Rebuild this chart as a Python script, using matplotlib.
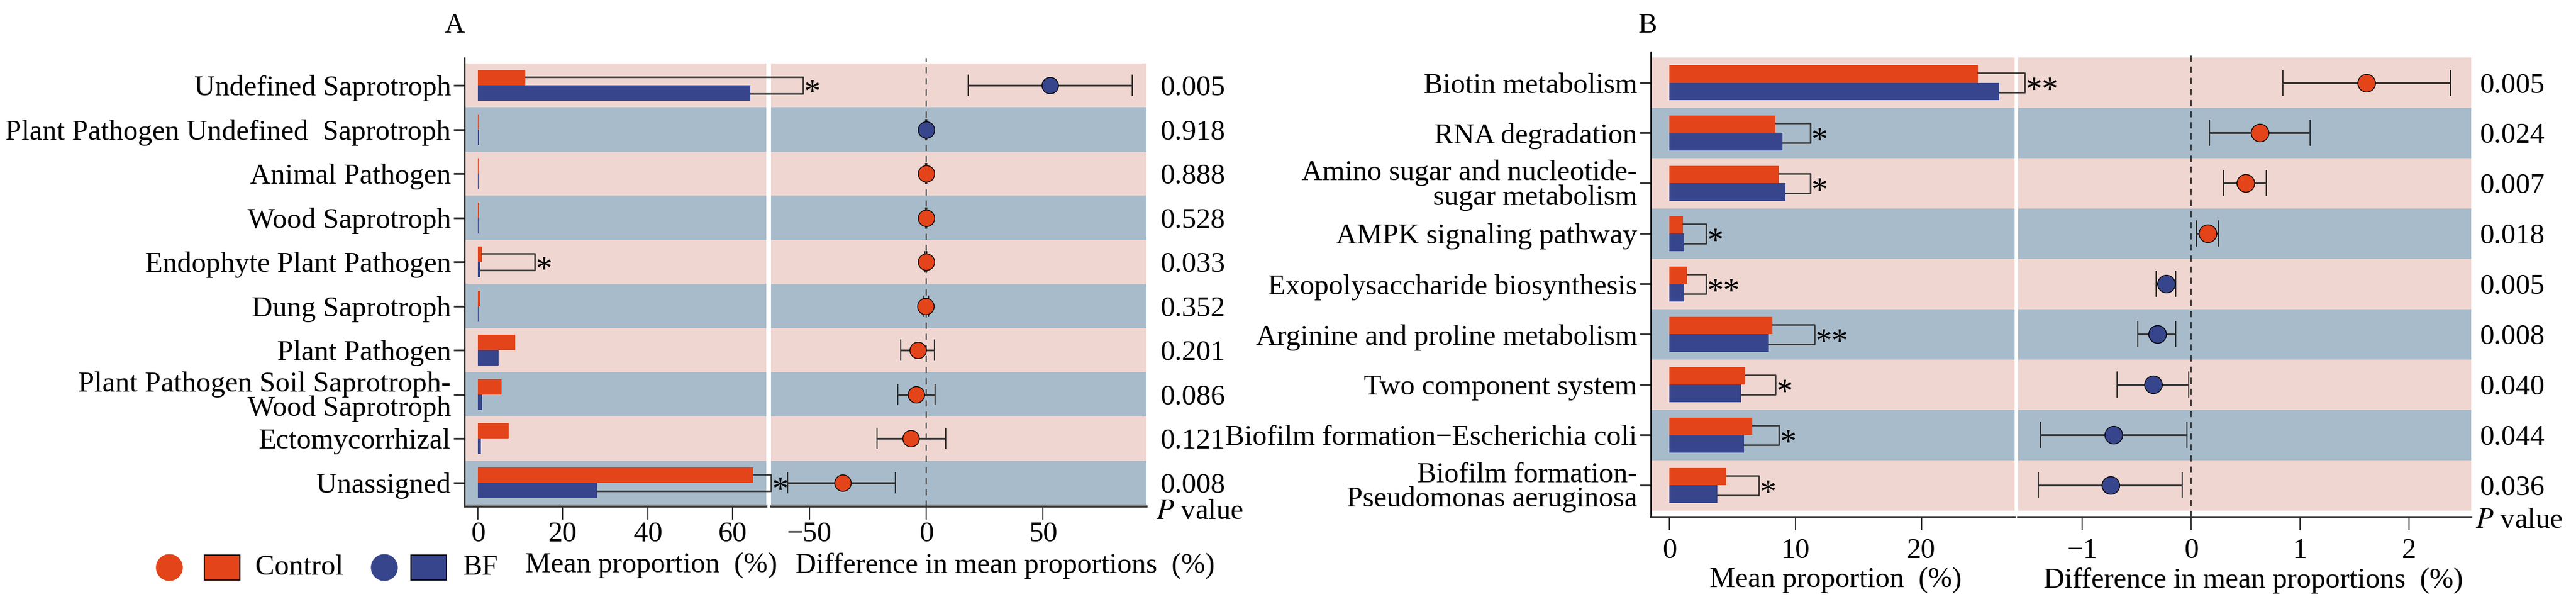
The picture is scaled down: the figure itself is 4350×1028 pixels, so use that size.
import matplotlib.pyplot as plt
import numpy as np
from matplotlib.patches import Ellipse, Rectangle
from matplotlib.transforms import blended_transform_factory

plt.rcParams['font.family'] = ['Liberation Serif', 'DejaVu Serif']
plt.rcParams['mathtext.fontset'] = 'stix'

# Panel A (funciones ecológicas de hongos)
cats_a = ['Undefined Saprotroph', 'Plant Pathogen Undefined  Saprotroph', 'Animal Pathogen',
          'Wood Saprotroph', 'Endophyte Plant Pathogen', 'Dung Saprotroph', 'Plant Pathogen',
          'Plant Pathogen Soil Saprotroph-\nWood Saprotroph', 'Ectomycorrhizal', 'Unassigned']
control_a = [11.2, 0.2, 0.1, 0.3, 1.0, 0.5, 8.8, 5.6, 7.3, 64.8]
bf_a = [64.1, 0.3, 0.1, 0.2, 0.6, 0.1, 4.9, 1.0, 0.7, 28.0]
diff_a = [53.0, 0.0, 0.0, 0.0, -0.1, -0.2, -3.6, -4.2, -6.5, -35.8]
low_a = [18.0, -0.3, -0.2, -0.3, -0.5, -1.4, -10.8, -12.2, -21.1, -59.4]
high_a = [88.3, 0.3, 0.2, 0.3, 0.3, 1.0, 3.6, 3.8, 8.3, -13.1]
dot_a = ['BF', 'BF', 'Control', 'Control', 'Control', 'Control', 'Control', 'Control', 'Control', 'Control']
sig_a = ['*', '', '', '', '*', '', '', '', '', '*']
bracket_a = [76.5, 0, 0, 0, 13.4, 0, 0, 0, 0, 69.0]
pval_a = ['0.005', '0.918', '0.888', '0.528', '0.033', '0.352', '0.201', '0.086', '0.121', '0.008']
ticks_bar_a = [0, 20, 40, 60]
ticks_diff_a = [-50, 0, 50]

# Panel B (rutas metabólicas)
cats_b = ['Biotin metabolism', 'RNA degradation', 'Amino sugar and nucleotide-\nsugar metabolism',
          'AMPK signaling pathway', 'Exopolysaccharide biosynthesis', 'Arginine and proline metabolism',
          'Two component system', 'Biofilm formation\u2212Escherichia coli',
          'Biofilm formation-\nPseudomonas aeruginosa']
control_b = [24.5, 8.4, 8.7, 1.1, 1.4, 8.2, 6.0, 6.6, 4.5]
bf_b = [26.2, 9.0, 9.2, 1.2, 1.2, 7.9, 5.7, 5.9, 3.8]
diff_b = [1.61, 0.63, 0.50, 0.15, -0.23, -0.31, -0.35, -0.71, -0.74]
low_b = [0.84, 0.17, 0.30, 0.05, -0.32, -0.49, -0.68, -1.38, -1.40]
high_b = [2.38, 1.09, 0.69, 0.25, -0.14, -0.14, -0.02, -0.04, -0.08]
dot_b = ['Control', 'Control', 'Control', 'Control', 'BF', 'BF', 'BF', 'BF', 'BF']
sig_b = ['**', '*', '*', '*', '**', '**', '*', '*', '*']
bracket_b = [28.2, 11.2, 11.2, 2.9, 2.9, 11.5, 8.4, 8.7, 7.1]
pval_b = ['0.005', '0.024', '0.007', '0.018', '0.005', '0.008', '0.040', '0.044', '0.036']
ticks_bar_b = [0, 10, 20]
ticks_diff_b = [-1, 0, 1, 2]

# Colores
orange = '#E4441A'
blue = '#37468C'
pink_band = '#F0D6D0'
blue_band = '#A7BBCB'
dark = '#333333'
colors = {'Control': orange, 'BF': blue}

W, H = 4350, 1028
FS = 35

fig = plt.figure(figsize=(W / 100, H / 100), dpi=100)


def rect(l, t, r, b):
    return [l / W, 1 - b / H, (r - l) / W, (b - t) / H]


def draw_panel(box_bar, box_diff, ylim, xlim_bar, xlim_diff, cats, control, bf, diff, low, high,
               dot, sig, bracket, pvals, ticks_bar, ticks_diff, pval_x, capsize, msize, tickpad):
    ax_diff = fig.add_axes(rect(*box_diff))
    ax_bar = fig.add_axes(rect(*box_bar))
    # las llaves de significancia pasan por encima del panel derecho
    ax_bar.set_zorder(ax_diff.get_zorder() + 1)
    n = len(cats)
    y = np.arange(n)
    h = 0.35

    for ax in (ax_bar, ax_diff):
        for i in range(n):
            ax.axhspan(i - 0.5, i + 0.5, color=pink_band if i % 2 == 0 else blue_band, lw=0, zorder=0)
        ax.set_ylim(*ylim)
        ax.spines['top'].set_visible(False)
        ax.spines['right'].set_visible(False)
        ax.spines['bottom'].set_linewidth(2.6)
        ax.spines['bottom'].set_color(dark)
        ax.tick_params(axis='x', length=16, width=1.5, color=dark, labelsize=FS, pad=tickpad)

    # Barras de proporción media
    ax_bar.barh(y - h / 2, control, height=h, color=orange, zorder=2)
    ax_bar.barh(y + h / 2, bf, height=h, color=blue, zorder=2)
    for i in range(n):
        if sig[i]:
            ax_bar.plot([control[i], bracket[i], bracket[i], bf[i]],
                        [i - 0.19, i - 0.19, i + 0.19, i + 0.19],
                        color=dark, lw=1.8, clip_on=False, zorder=3)
            ax_bar.annotate(sig[i], xy=(bracket[i], i), xytext=(1, -11), textcoords='offset points',
                            ha='left', va='center', fontsize=40, annotation_clip=False)
    ax_bar.set_xlim(*xlim_bar)
    ax_bar.set_xticks(ticks_bar)
    ax_bar.set_yticks(y)
    ax_bar.set_yticklabels(cats, fontsize=FS, linespacing=0.9)
    ax_bar.spines['left'].set_linewidth(1.6)
    ax_bar.tick_params(axis='y', length=14, width=2.2, color=dark, pad=3)

    # Diferencia de proporciones con IC
    ax_diff.axvline(0, color=dark, lw=1.5, ls=(0, (5, 4)), zorder=1)
    for i in range(n):
        ax_diff.errorbar(diff[i], i, xerr=[[diff[i] - low[i]], [high[i] - diff[i]]], fmt='none',
                         ecolor=dark, elinewidth=2.2, capsize=capsize, capthick=1.5, zorder=3)
        ax_diff.plot(diff[i], i, 'o', ms=msize, color=colors[dot[i]], mec='black', mew=1.0, zorder=4)
    ax_diff.set_xlim(*xlim_diff)
    ax_diff.set_xticks(ticks_diff)
    ax_diff.set_yticks([])
    ax_diff.spines['left'].set_visible(False)

    # Valores P
    tr = blended_transform_factory(fig.transFigure, ax_diff.transData)
    for i in range(n):
        ax_diff.text(pval_x / W, i, pvals[i], transform=tr, ha='left', va='center_baseline', fontsize=FS)
    return ax_bar, ax_diff


draw_panel((785, 98, 1294, 855), (1302, 98, 1936, 855), (9.54, -0.62), (-3.07, 67.9), (-66.5, 94.4),
           cats_a, control_a, bf_a, diff_a, low_a, high_a, dot_a, sig_a, bracket_a, pval_a,
           ticks_bar_a, ticks_diff_a, 1959, 13.3, 20, 2)
draw_panel((2788, 88, 3402, 873), (3408, 88, 4173, 873), (8.63, -0.606), (-1.455, 27.4), (-1.587, 2.57),
           cats_b, control_b, bf_b, diff_b, low_b, high_b, dot_b, sig_b, bracket_b, pval_b,
           ticks_bar_b, ticks_diff_b, 4187, 15.5, 21.5, 9)

# Capa de textos y leyenda en pixeles
ov = fig.add_axes([0, 0, 1, 1])
ov.set_xlim(0, W)
ov.set_ylim(H, 0)
ov.axis('off')

ov.text(768, 44, 'A', ha='center', va='center', fontsize=34)
ov.text(2782, 44, 'B', ha='center', va='center', fontsize=34)

ov.text(1952, 864, '$\\it{P}$ value', ha='left', va='center', fontsize=FS)
ov.text(4180, 879, '$\\it{P}$ value', ha='left', va='center', fontsize=FS)

ov.text(1100, 955, 'Mean proportion  (%)', ha='center', va='center', fontsize=FS)
ov.text(1697, 955, 'Difference in mean proportions  (%)', ha='center', va='center', fontsize=FS)
ov.text(3100, 980, 'Mean proportion  (%)', ha='center', va='center', fontsize=FS)
ov.text(3805, 980, 'Difference in mean proportions  (%)', ha='center', va='center', fontsize=FS)

# Leyenda
ov.add_patch(Ellipse((286, 958), 44, 44, color=orange))
ov.add_patch(Rectangle((345, 937), 60, 42, facecolor=orange, edgecolor='black', lw=1.5))
ov.text(431, 958, 'Control', ha='left', va='center', fontsize=FS)
ov.add_patch(Ellipse((649, 958), 44, 44, color=blue))
ov.add_patch(Rectangle((694, 937), 60, 42, facecolor=blue, edgecolor='black', lw=1.5))
ov.text(782, 958, 'BF', ha='left', va='center', fontsize=FS)

fig.savefig('out.png', dpi=100)
